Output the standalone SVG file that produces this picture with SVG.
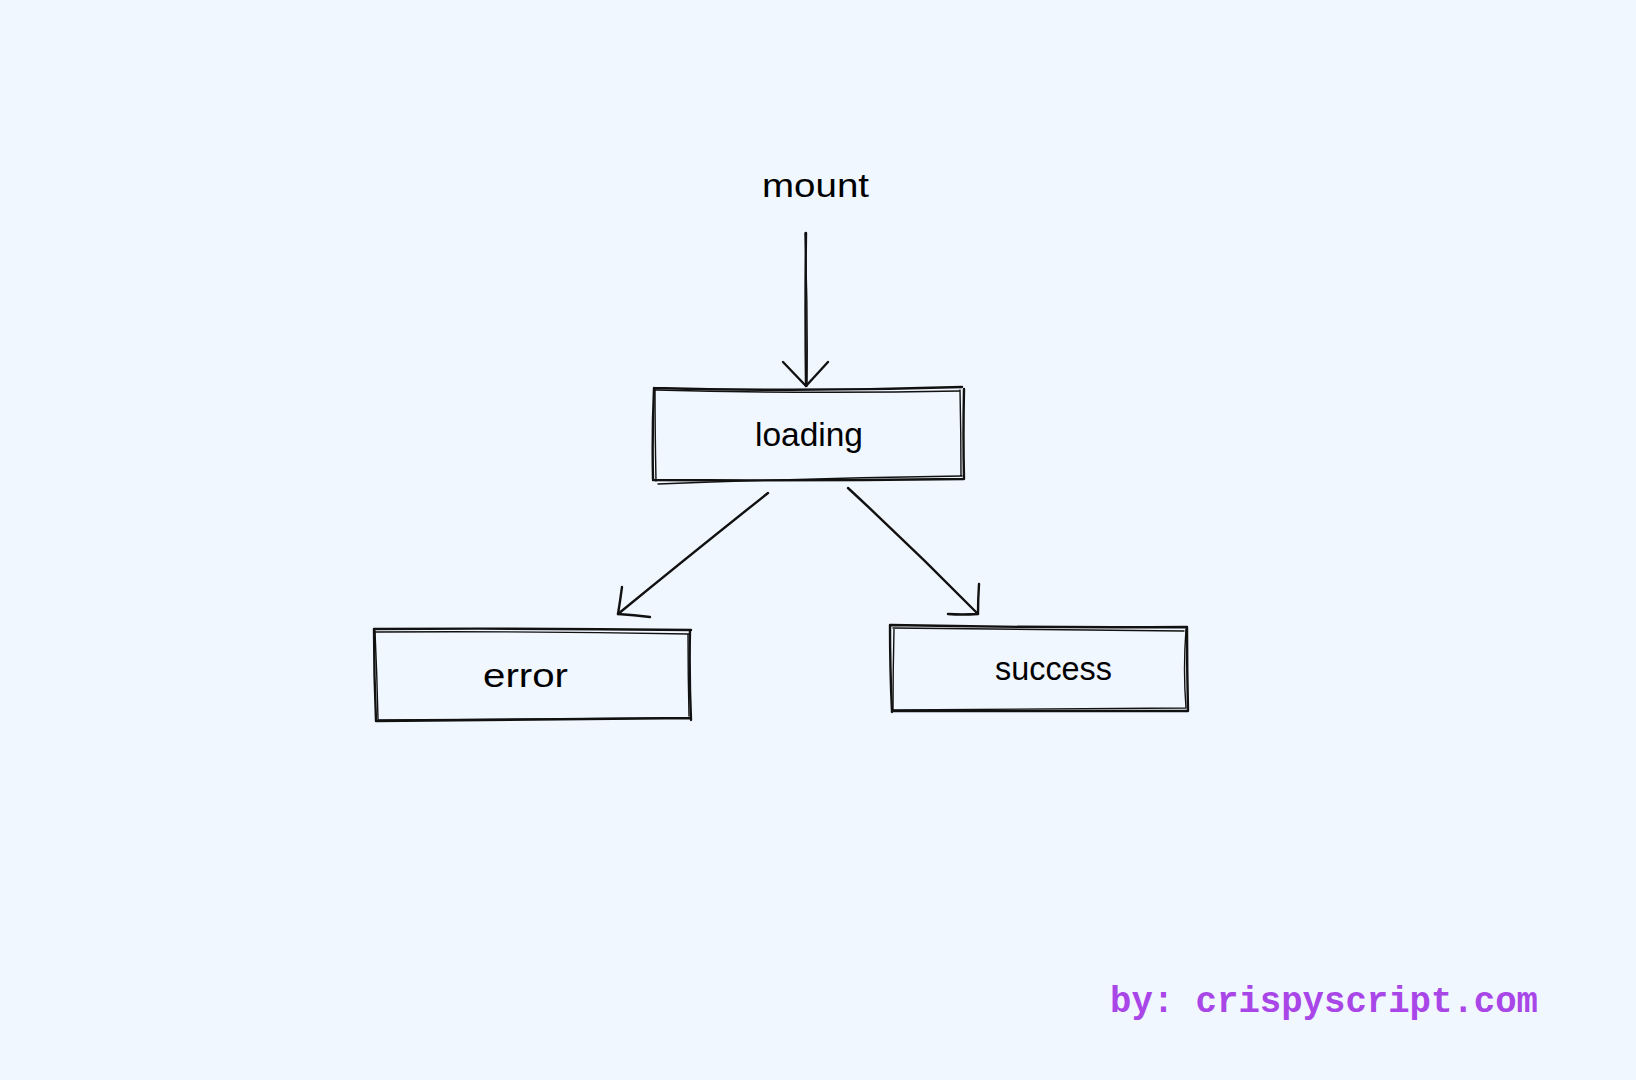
<svg xmlns="http://www.w3.org/2000/svg" width="1636" height="1080" viewBox="0 0 1636 1080">
<style>
.bg{fill:#f1f7ff}
.sk{fill:none;stroke:#111;stroke-width:2.4;stroke-linecap:round;stroke-linejoin:round}
.sk2{fill:none;stroke:#111;stroke-width:1.4;stroke-linecap:round;stroke-linejoin:round}
.lbl{font-family:"Liberation Sans","DejaVu Sans",sans-serif;font-size:34px;fill:#000;text-anchor:start}
.foot{font-family:"Liberation Mono","DejaVu Sans Mono",monospace;font-weight:bold;font-size:37px;fill:#a946e8}
</style>
<rect class="bg" x="0" y="0" width="1636" height="1080"/>

<g id="mount">
<text class="lbl" x="762" y="197" textLength="107" lengthAdjust="spacingAndGlyphs">mount</text>
</g>

<g id="loading">
<path class="sk" d="M654 388 Q810 392 962 387 M964 389 Q963 435 964 479 M963 479 Q810 481 653 480 M653 479 Q652 434 654 388"/>
<path class="sk2" d="M656 390 Q810 394 959 391 M960 390 Q961 434 961 476 M962 476 Q810 478 658 484 M656 481 Q655 430 655 389"/>
<text class="lbl" x="755" y="446" textLength="108" lengthAdjust="spacingAndGlyphs">loading</text>
</g>

<g id="error">
<path class="sk" d="M374 629 Q530 628 691 630 M690 630 Q689 675 691 720 M691 718 Q530 720 376 721 M376 721 Q374 675 374 629"/>
<path class="sk2" d="M375 632 Q530 631 689 634 M688 634 Q688 675 689 716 M688 718 Q530 719 378 720 M378 719 Q377 675 375 631"/>
<text class="lbl" x="483" y="687" textLength="85" lengthAdjust="spacingAndGlyphs">error</text>
</g>

<g id="success">
<path class="sk" d="M890 625 Q1040 628 1187 627 M1187 627 Q1187 670 1188 711 M1187 711 Q1040 711 892 711 M892 712 Q890 670 890 625"/>
<path class="sk2" d="M893 628 Q1040 630 1184 631 M1186 629 Q1183 670 1186 708 M1186 708 Q1040 709 894 710 M893 710 Q893 670 894 629"/>
<text class="lbl" x="995" y="680" textLength="117" lengthAdjust="spacingAndGlyphs">success</text>
</g>

<g id="connectors">
<path class="sk" d="M806 233 Q805 310 806 386"/>
<path class="sk2" d="M805 233 Q808 310 807 386"/>
<path class="sk" d="M783 362 L806 386 L828 362"/>
<path class="sk" d="M768 493 Q690 555 618 614"/>
<path class="sk" d="M622 587 Q620 602 618 614 Q634 615 650 617"/>
<path class="sk" d="M848 488 Q915 550 978 614"/>
<path class="sk" d="M979 584 Q978 600 978 614 Q962 615 948 614"/>
</g>

<text class="foot" x="1110" y="1012" textLength="428" lengthAdjust="spacingAndGlyphs">by: crispyscript.com</text>
</svg>
